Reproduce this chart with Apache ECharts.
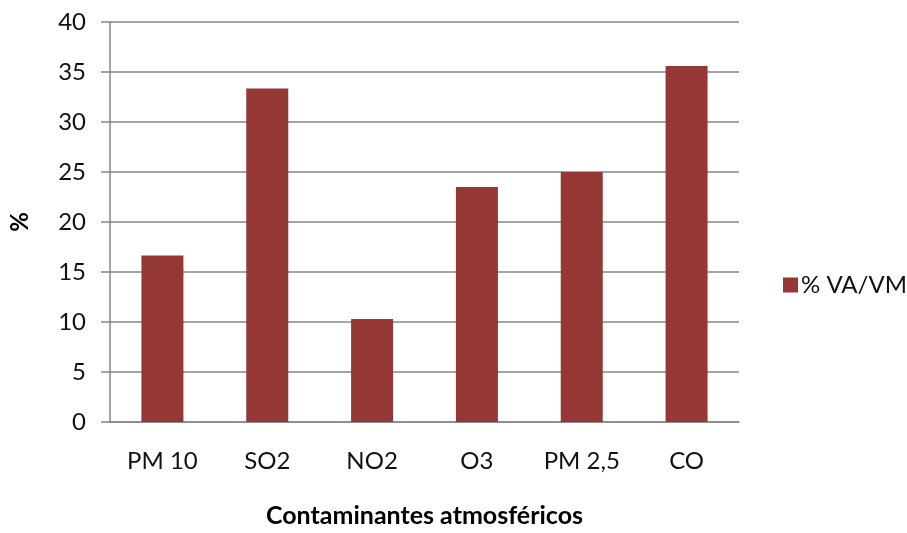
<!DOCTYPE html>
<html>
<head>
<meta charset="utf-8">
<script src="https://cdn.jsdelivr.net/npm/echarts@6/dist/echarts.min.js"></script>
<style>html,body{margin:0;padding:0;background:#fff}#c{width:907px;height:533px}</style>
</head>
<body>
<div id="c"></div>
<script>
var categories = ['PM 10', 'SO2', 'NO2', 'O3', 'PM 2,5', 'CO'];
var values = [16.65, 33.35, 10.3, 23.5, 25.0, 35.6];
var seriesName = '% VA/VM';
var yTicks = [0, 5, 10, 15, 20, 25, 30, 35, 40];

var FONT = 'Lato';
var chart = echarts.init(document.getElementById('c'), null, {renderer: 'canvas'});
chart.setOption({
  animation: false,
  backgroundColor: '#ffffff',
  textStyle: {fontFamily: FONT},
  grid: {left: 106, right: 168, top: 22, bottom: 108, containLabel: false},
  legend: {
    data: [seriesName], left: 778, top: 268, orient: 'vertical',
    itemWidth: 15, itemHeight: 15, icon: 'rect', itemGap: 6,
    textStyle: {fontFamily: FONT, fontSize: 24, color: '#111', padding: [0, 0, 0, -2]}
  },
  xAxis: {
    type: 'category', data: categories,
    name: 'Contaminantes atmosféricos', nameLocation: 'middle', nameGap: 81,
    nameTextStyle: {fontFamily: FONT, fontSize: 25, fontWeight: 'bold', color: '#000'},
    axisLine: {lineStyle: {color: '#868686', width: 1.5}},
    axisTick: {show: false},
    axisLabel: {fontFamily: FONT, fontSize: 24, color: '#111', margin: 27}
  },
  yAxis: {
    type: 'value', min: yTicks[0], max: yTicks[yTicks.length - 1], interval: 5,
    name: '%', nameLocation: 'middle', nameGap: 78, nameRotate: 90,
    nameTextStyle: {fontFamily: FONT, fontSize: 24, fontWeight: 'bold', color: '#000'},
    axisLine: {show: true, lineStyle: {color: '#868686', width: 1.5}},
    axisTick: {show: true, length: 9, lineStyle: {color: '#868686', width: 1.5}},
    splitLine: {lineStyle: {color: '#868686', width: 1.5}},
    axisLabel: {fontFamily: FONT, fontSize: 24, color: '#111', margin: 24}
  },
  series: [{
    name: seriesName, type: 'bar', data: values, barWidth: 42,
    itemStyle: {color: '#953735'}
  }]
});
</script>
</body>
</html>
